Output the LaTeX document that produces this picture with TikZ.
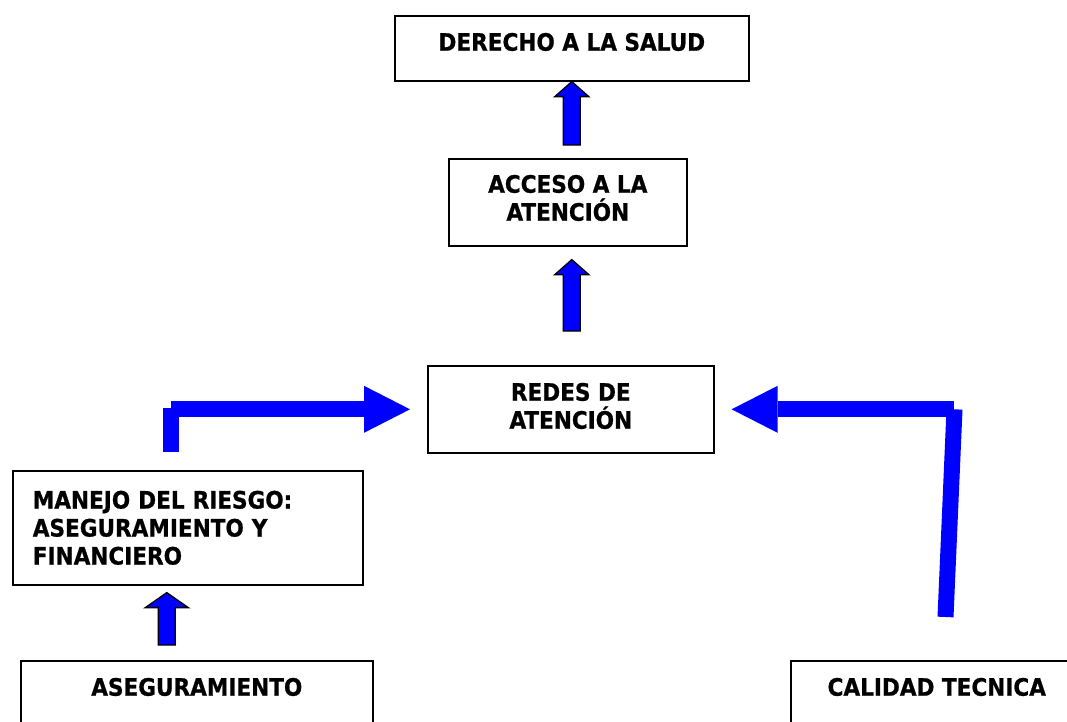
\documentclass[tikz,border=0pt]{standalone}
\usepackage{fontspec}
\setmainfont{DejaVu Sans Condensed}[BoldFeatures={FakeBold=0.8}]
\usetikzlibrary{calc,arrows.meta}
% fat up-arrow: #1 foot, #2 tip, #3 half width of the head
\newcommand{\blockup}[3]{%
  \filldraw[blockarrow] let \p1=#1, \p2=#2 in
    (\x2,\y2) -- (\x2+#3,\y2-15pt) -- (\x2+8.5pt,\y2-15pt) -- (\x2+8.5pt,\y1)
    -- (\x2-8.5pt,\y1) -- (\x2-8.5pt,\y2-15pt) -- (\x2-#3,\y2-15pt) -- cycle;}
\begin{document}
\begin{tikzpicture}[x=1pt,y=-1pt,
  box/.style={draw, line width=1.6pt, anchor=north west, inner sep=0pt, align=center,
    font=\bfseries\fontsize{24}{28}\selectfont},
  blockarrow/.style={fill=blue, draw=black, line width=1.3pt, line join=miter},
  bentbar/.style={draw=blue, line width=16pt},
  bentarrow/.style={-{Triangle[length=46pt,width=47pt,line width=0pt]}}]
\useasboundingbox (0,0) rectangle (1067,721);
\clip (0,0) rectangle (1067,721);
\node[box, minimum width=354, minimum height=65, text depth=13] (derecho) at (394,15) {DERECHO A LA SALUD};
\node[box, minimum width=238, minimum height=87, text depth=9] (acceso) at (448,158) {ACCESO A LA\\ATENCIÓN};
\node[box, minimum width=286, minimum height=87, text depth=7] (redes) at (427,365) {REDES DE\\ATENCIÓN};
\node[box, text width=310, inner xsep=20, align=left, minimum height=114] (manejo) at (12,470)
  {MANEJO DEL RIESGO:\\ASEGURAMIENTO Y\\FINANCIERO};
\node[box, minimum width=352, minimum height=100, text depth=48] (asegura) at (20,660) {ASEGURAMIENTO};
\node[box, minimum width=292, minimum height=100, text depth=48] (calidad) at (790,660) {CALIDAD TECNICA};
% up arrows
\blockup{($(acceso.north)+(0,-13)$)}{($(derecho.south)+(0,0)$)}{17pt}
\blockup{($(redes.north)+(0,-34)$)}{($(acceso.south)+(4,13)$)}{17pt}
\blockup{($(asegura.north)+(0,-15)$)}{($(manejo.south)+(-21,7)$)}{21.5pt}
% bent arrows into the redes box
\coordinate (lfoot) at (170.5,452);
\draw[bentbar] (lfoot) -- ++(0,-44);
\draw[bentbar,bentarrow] ($(lfoot |- redes.west)+(0.5,0)$) -- ($(redes.west)+(-17,0)$);
\coordinate (rfoot) at (945.5,617);
\draw[bentbar] (rfoot) -- ($(rfoot |- redes.east)+(9,0)$);
\draw[bentbar,bentarrow] ($(rfoot |- redes.east)+(8.5,0)$) -- ($(redes.east)+(17,0)$);
\end{tikzpicture}
\end{document}
